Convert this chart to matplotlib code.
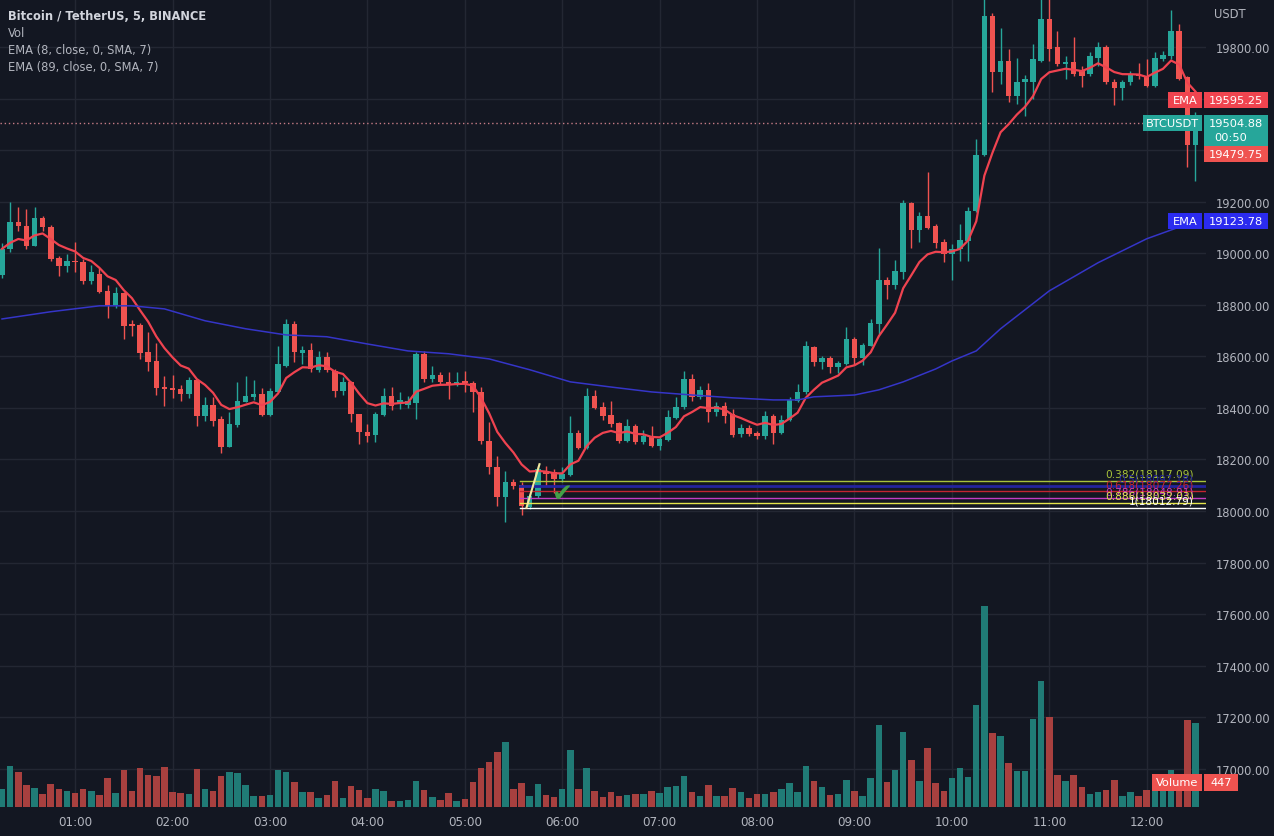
import matplotlib
matplotlib.use('Agg')
import matplotlib.pyplot as plt
import numpy as np
import pandas as pd
from matplotlib.patches import Rectangle

BG = '#131722'
GRID = '#232733'
TXT = '#b2b5be'
UP = '#26a69a'
DN = '#ef5350'
VUP = '#207b76'
VDN = '#a8403f'
EMA_FAST_C = '#ef4350'
EMA_SLOW_C = '#3535c8'

# ---------------- data ----------------
start_time = '2022-10-26 00:15'
opens = [18917, 19017, 19122, 19107, 19029, 19138, 19103, 18982, 18951, 18971,
         18967, 18893, 18920, 18854, 18796, 18846, 18726, 18722, 18617, 18583,
         18481, 18478, 18474, 18454, 18509, 18369, 18412, 18357, 18249, 18334,
         18423, 18443, 18454, 18373, 18462, 18563, 18726, 18614, 18625, 18548,
         18598, 18544, 18466, 18501, 18377, 18307, 18295, 18373, 18447, 18419,
         18412, 18419, 18610, 18513, 18528, 18501, 18493, 18505, 18497, 18462,
         18272, 18171, 18054, 18113, 18101, 18015, 18058, 18155, 18151, 18124,
         18140, 18303, 18245, 18447, 18404, 18373, 18342, 18272, 18330, 18268,
         18291, 18252, 18276, 18361, 18404, 18513, 18443, 18470, 18384, 18408,
         18377, 18299, 18322, 18303, 18291, 18369, 18303, 18353, 18427, 18462,
         18637, 18579, 18594, 18559, 18571, 18668, 18594, 18641, 18726, 18897,
         18878, 18928, 19196, 19091, 19146, 19107, 19045, 18998, 19017, 19048,
         19165, 19382, 19922, 19701, 19747, 19611, 19666, 19666, 19747, 19907,
         19798, 19732, 19743, 19709, 19697, 19759, 19798, 19666, 19639, 19666,
         19697, 19689, 19650, 19755, 19763, 19860, 19682, 19418]
highs = [19040, 19200, 19180, 19173, 19180, 19146, 19111, 18990, 18998, 19045,
         18979, 18955, 18944, 18877, 18869, 18850, 18742, 18730, 18695, 18653,
         18524, 18528, 18489, 18520, 18513, 18443, 18443, 18369, 18384, 18501,
         18524, 18509, 18478, 18478, 18641, 18746, 18738, 18641, 18653, 18621,
         18617, 18552, 18520, 18505, 18377, 18338, 18384, 18478, 18481, 18462,
         18445, 18617, 18621, 18563, 18540, 18540, 18540, 18544, 18505, 18481,
         18346, 18214, 18155, 18124, 18113, 18070, 18175, 18175, 18163, 18171,
         18369, 18315, 18478, 18470, 18423, 18427, 18346, 18357, 18338, 18315,
         18330, 18287, 18392, 18443, 18544, 18532, 18485, 18497, 18423, 18423,
         18396, 18338, 18334, 18310, 18388, 18377, 18373, 18443, 18493, 18660,
         18641, 18602, 18602, 18583, 18714, 18676, 18653, 18746, 19021, 18909,
         18975, 19208, 19200, 19161, 19316, 19115, 19056, 19037, 19114, 19180,
         19444, 19995, 19930, 19875, 19794, 19759, 19693, 19810, 19995, 19995,
         19860, 19763, 19837, 19728, 19782, 19821, 19806, 19677, 19670, 19705,
         19736, 19755, 19782, 19786, 19942, 19888, 19689, 19549]
lows = [18905, 19006, 19087, 19017, 19029, 19087, 18971, 18913, 18928, 18928,
        18881, 18881, 18846, 18749, 18788, 18668, 18680, 18590, 18544, 18450,
        18408, 18439, 18427, 18439, 18330, 18350, 18330, 18225, 18249, 18326,
        18423, 18431, 18369, 18369, 18462, 18559, 18579, 18571, 18540, 18540,
        18540, 18443, 18450, 18346, 18260, 18268, 18268, 18369, 18392, 18396,
        18400, 18357, 18501, 18501, 18489, 18435, 18485, 18462, 18384, 18260,
        18144, 18019, 17957, 18085, 17984, 18008, 18050, 18097, 18070, 18113,
        18136, 18240, 18241, 18396, 18353, 18326, 18264, 18268, 18260, 18260,
        18249, 18237, 18272, 18357, 18396, 18427, 18435, 18346, 18369, 18342,
        18287, 18287, 18291, 18280, 18280, 18260, 18299, 18349, 18423, 18454,
        18563, 18552, 18536, 18536, 18567, 18567, 18567, 18641, 18688, 18823,
        18862, 18901, 19021, 19045, 19095, 19021, 18967, 18897, 18971, 18971,
        19161, 19378, 19627, 19658, 19588, 19580, 19534, 19600, 19743, 19747,
        19728, 19677, 19689, 19643, 19689, 19728, 19658, 19573, 19596, 19654,
        19677, 19646, 19646, 19747, 19755, 19670, 19336, 19281]
closes = [19017, 19122, 19107, 19029, 19138, 19103, 18979, 18951, 18971, 18967,
          18893, 18928, 18850, 18796, 18846, 18718, 18718, 18614, 18579, 18478,
          18474, 18470, 18454, 18509, 18369, 18412, 18350, 18249, 18338, 18427,
          18447, 18454, 18373, 18466, 18571, 18726, 18617, 18625, 18551, 18598,
          18548, 18466, 18501, 18377, 18307, 18291, 18377, 18447, 18408, 18431,
          18427, 18610, 18513, 18528, 18501, 18493, 18501, 18497, 18462, 18272,
          18171, 18054, 18113, 18097, 18019, 18058, 18163, 18144, 18124, 18144,
          18303, 18245, 18447, 18400, 18369, 18338, 18272, 18330, 18268, 18291,
          18252, 18280, 18365, 18404, 18513, 18443, 18470, 18384, 18408, 18369,
          18295, 18322, 18299, 18291, 18369, 18303, 18353, 18431, 18462, 18641,
          18579, 18594, 18559, 18575, 18668, 18594, 18645, 18730, 18897, 18878,
          18932, 19196, 19091, 19146, 19099, 19041, 18998, 19017, 19052, 19165,
          19382, 19922, 19701, 19747, 19611, 19666, 19674, 19755, 19907, 19794,
          19732, 19740, 19697, 19689, 19763, 19798, 19666, 19639, 19666, 19693,
          19689, 19650, 19759, 19767, 19860, 19677, 19418, 19504.88]
volumes = [18, 41, 35, 22, 19, 13, 23, 18, 16, 14, 18, 16, 12, 29, 14, 37, 16, 39, 32, 31,
           40, 15, 14, 13, 38, 18, 16, 31, 35, 34, 22, 11, 11, 12, 37, 35, 25, 15, 15, 9,
           12, 26, 9, 21, 17, 9, 18, 16, 6, 6,
           7, 26, 17, 10, 7, 14, 6, 8, 25, 39, 45, 55, 65, 18, 24, 11, 23, 12, 10, 18,
           57, 18, 39, 16, 10, 15, 11, 12, 13, 13, 16, 14, 20, 21, 31, 15, 11, 22, 11, 11,
           19, 15, 9, 13, 13, 15, 18, 24, 15,
           41, 26, 20, 12, 13, 27, 16, 11, 29, 82, 25, 37, 75, 47, 26, 59, 24, 16, 29, 39,
           30, 102, 201, 74, 71, 44, 36, 36, 88, 126, 90, 32, 26, 32, 20, 13, 15, 17, 27, 11,
           15, 11, 17, 18, 18, 37, 30, 87, 84]

# slow EMA (89) at a few candles
ema89_idx = [0, 6, 12, 16, 20, 25, 30, 35, 40, 45, 50, 55, 60, 65, 70, 75, 80, 85, 90,
             95, 98, 100, 105, 108, 111, 115, 117, 120, 123, 129, 135, 141, 147]
ema89_val = [18745, 18773, 18796, 18796, 18784, 18738, 18707, 18683, 18676, 18648, 18621,
             18610, 18590, 18548, 18501, 18481, 18462, 18450, 18439, 18431, 18431, 18443,
             18450, 18470, 18501, 18551, 18582, 18621, 18707, 18854, 18963, 19056, 19124]

price_ticks = list(range(17000, 19801, 200))
hidden_ticks = [19600, 19400]     # covered by the price tags in the original
last_price = 19504.88
ema_fast_last = 19595.25
ema_slow_last = 19123.78
prev_close_tag = 19479.75
volume_tag = 447

fib_low = 18012.79     # level 1
fib_high = 18181.56    # level 0
fib_ratios = [0.382, 0.5, 0.618, 0.786, 0.886, 1.0]
fib_colors = ['#a9c43a', '#23239e', '#c32530', '#c23cc2', '#e6e64c', '#ffffff']
fib_start = 63.8

legend_lines = ['Bitcoin / TetherUS, 5, BINANCE', 'Vol',
                'EMA (8, close, 0, SMA, 7)', 'EMA (89, close, 0, SMA, 7)']

# ---------------- figure ----------------
W, H = 1274, 837
fig = plt.figure(figsize=(W / 100, H / 100), dpi=100, facecolor=BG)
plot_right = 1206
plot_bottom = 808
ax = fig.add_axes([0, 1 - plot_bottom / H, plot_right / W, plot_bottom / H])
ax.set_facecolor(BG)
n = len(closes)
idx = np.arange(n)
times = pd.date_range(start_time, periods=n, freq='5min')

ax.set_xlim(-0.25, 148.3)
ax.set_ylim(16852, 19986)

# grid
for p in price_ticks:
    ax.axhline(p, color=GRID, lw=1, zorder=0)
hour_pos = [i for i, t in enumerate(times) if t.minute == 0]
for i in hour_pos:
    ax.axvline(i, color=GRID, lw=1, zorder=0)

# candles
o = np.array(opens, float); c = np.array(closes, float)
h = np.array(highs, float); l = np.array(lows, float)
up = c >= o
cols = np.where(up, UP, DN)
ax.vlines(idx, l, h, colors=cols, lw=1, zorder=3)
body_bot = np.minimum(o, c)
body_h = np.maximum(np.abs(c - o), 4)
ax.bar(idx, body_h, bottom=body_bot, width=0.68, color=cols, lw=0, zorder=4)

# EMAs
ema8 = pd.Series(c).ewm(span=8, adjust=False).mean()
ax.plot(idx, ema8, color=EMA_FAST_C, lw=1.6, zorder=5)
ax.plot(ema89_idx, ema89_val, color=EMA_SLOW_C, lw=1.1, zorder=5)

# current price line
ax.axhline(last_price, color='#c77c86', lw=1, ls=(0, (1, 2)), zorder=2)

# fib retracement
for r, col in zip(fib_ratios, fib_colors):
    lvl = fib_high - r * (fib_high - fib_low)
    lw = 2 if r == 0.5 else 1
    ax.plot([fib_start, 148.3], [lvl, lvl], color=col, lw=lw, zorder=6)
    lab = f"{r:g}({lvl:.2f})"
    ax.annotate(lab, xy=(146.8, lvl), xytext=(0, 1.5), textcoords='offset points',
                ha='right', va='bottom', color=col, fontsize=7.6, zorder=7)
ax.plot([64.6, 66.2], [fib_low, fib_high], color='#f3e9a0', lw=1.5, zorder=6)
ax.text(68.9, 18068, '\u2714', color='#43a047', fontsize=18, ha='center', va='center', zorder=8)

# volume
axv = ax.twinx()
axv.set_ylim(0, max(volumes) / 0.249)
vcols = np.where(up, VUP, VDN)
axv.bar(idx, volumes, width=0.8, color=vcols, lw=0, zorder=1)
axv.set_yticks([])
axv.tick_params(axis='both', length=0, labelleft=False, labelright=False)
for s in axv.spines.values():
    s.set_visible(False)
axv.patch.set_alpha(0)

# axes styling (after twinx, which moves ticks)
for s in ax.spines.values():
    s.set_visible(False)
ax.yaxis.tick_right()
ax.yaxis.set_label_position('right')
ax.set_yticks(price_ticks)
ax.set_yticklabels(['' if p in hidden_ticks else f"{p:.2f}" for p in price_ticks])
ax.set_xticks(hour_pos)
ax.set_xticklabels([times[i].strftime('%H:%M') for i in hour_pos])
ax.tick_params(axis='y', which='both', left=False, right=False, labelleft=False,
               labelright=True, length=0, pad=7, labelsize=8.3, labelcolor=TXT)
ax.tick_params(axis='x', length=0, pad=6, labelsize=8.6, labelcolor=TXT)

# ---------------- overlay (labels, legend) ----------------
ov = fig.add_axes([0, 0, 1, 1], zorder=10)
ov.set_xlim(0, W); ov.set_ylim(H, 0); ov.axis('off'); ov.patch.set_alpha(0)


def py(price):
    return H - ax.transData.transform((0, price))[1]


def tag(x0, x1, yc, hgt, color, text, fs=8.2, tcolor='white'):
    ov.add_patch(Rectangle((x0, yc - hgt / 2), x1 - x0, hgt, color=color, lw=0))
    ov.text((x0 + x1) / 2, yc, text, color=tcolor, fontsize=fs, ha='center', va='center')


ov.text(1214, 14, 'USDT', color=TXT, fontsize=8.3, ha='left', va='center')

y_ema = py(ema_fast_last)
tag(1168, 1202, y_ema, 16, '#f0444f', 'EMA')
tag(1204, 1268, y_ema, 16, '#f0444f', f"{ema_fast_last:.2f}")

y_last = py(last_price)
tag(1143, 1202, y_last, 16, UP, 'BTCUSDT')
ov.add_patch(Rectangle((1204, y_last - 8), 64, 31, color=UP, lw=0))
ov.text(1236, y_last, f"{last_price:.2f}", color='white', fontsize=8.2, ha='center', va='center')
ov.text(1214, y_last + 14, '00:50', color='white', fontsize=8.2, ha='left', va='center')
tag(1204, 1268, y_last + 31, 16, DN, f"{prev_close_tag:.2f}")

y_slow = py(ema_slow_last)
tag(1168, 1202, y_slow, 16, '#2b2bef', 'EMA')
tag(1204, 1268, y_slow, 16, '#2b2bef', f"{ema_slow_last:.2f}")

tag(1152, 1202, 783.5, 17, DN, 'Volume')
tag(1204, 1238, 783.5, 17, DN, f"{volume_tag}")

for k, line in enumerate(legend_lines):
    ov.text(8, 16 + 17 * k, line, color='#d1d4dc' if k == 0 else '#b2b5be',
            fontsize=8.3, ha='left', va='center',
            fontweight='bold' if k == 0 else 'normal')

fig.savefig('out.png', dpi=100, facecolor=BG)
